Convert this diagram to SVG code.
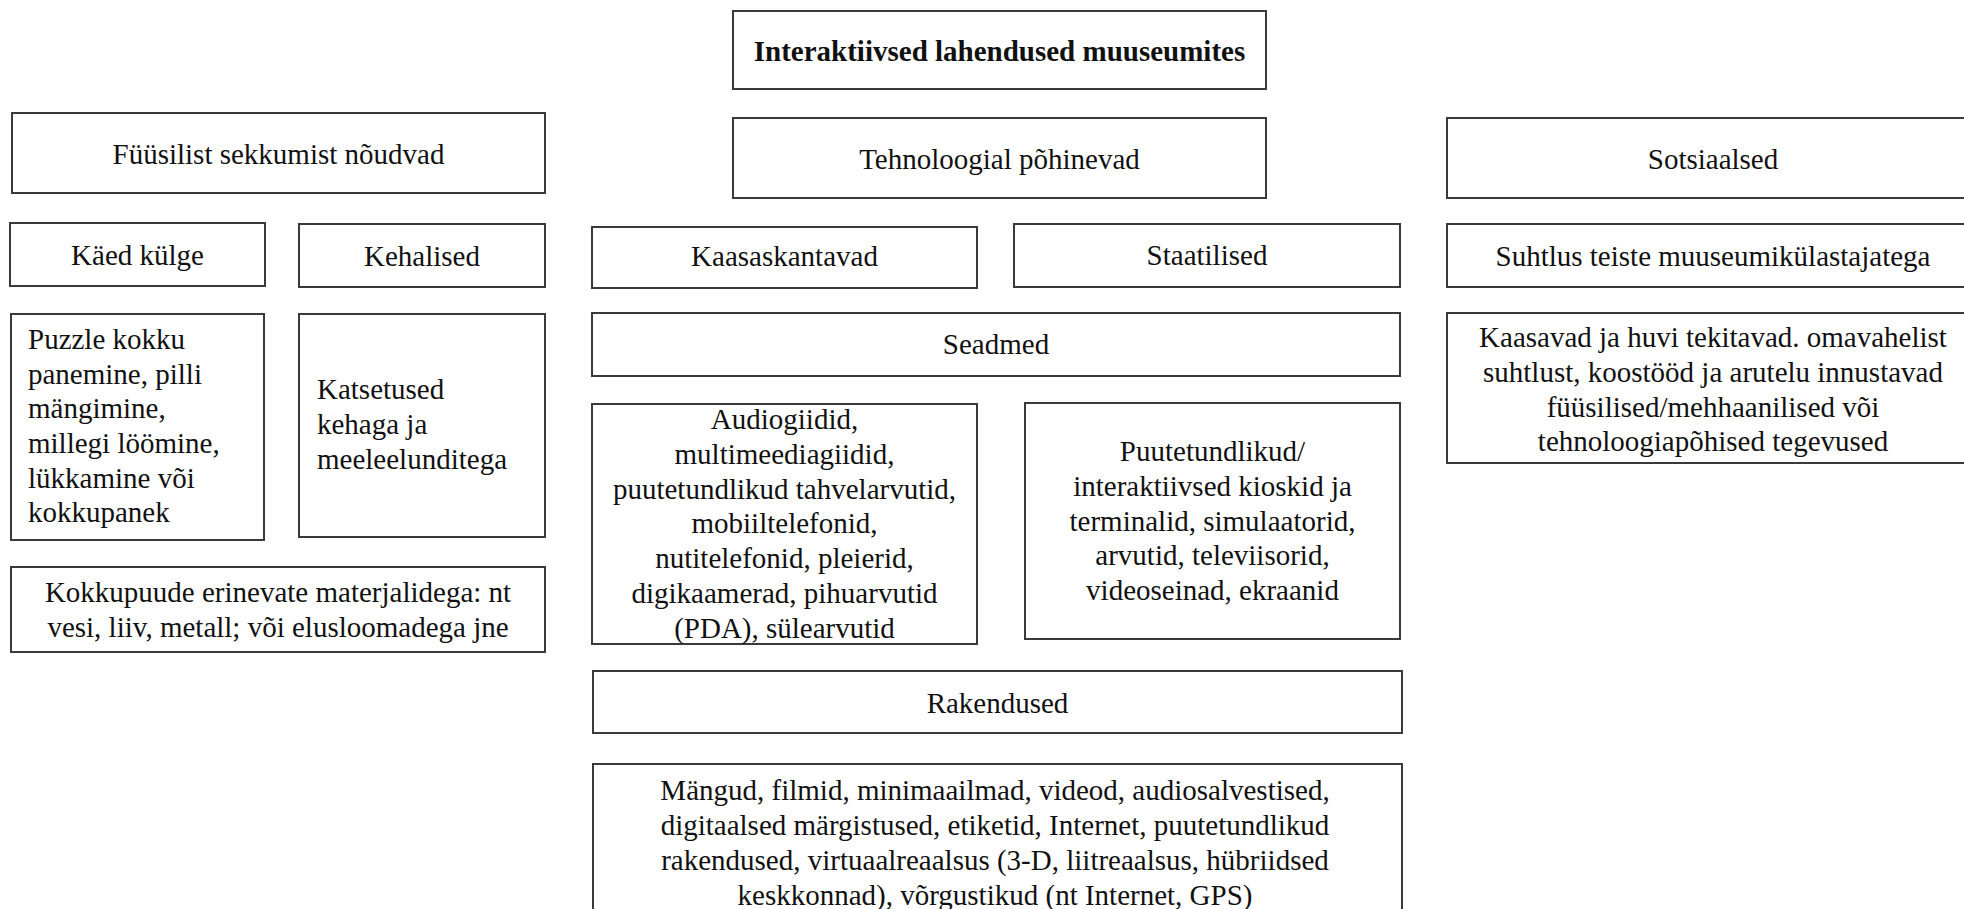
<svg xmlns="http://www.w3.org/2000/svg" width="1964" height="909" viewBox="0 0 1964 909">
  <style>
    .box { fill: #ffffff; stroke: #3a3a3a; stroke-width: 2; }
    .t { font-family: "Liberation Serif", "Times New Roman", serif; font-size: 29px; fill: #111111; }
    .c { text-anchor: middle; }
    .b { font-weight: bold; }
  </style>
  <rect x="0" y="0" width="1964" height="909" fill="#ffffff"/>

  <!-- Root -->
  <g id="root">
    <rect class="box" x="733" y="11" width="533" height="78"/>
    <text class="t c b" x="999.5" y="61">Interaktiivsed lahendused muuseumites</text>
  </g>

  <!-- Physical branch -->
  <g id="fyysilist">
    <rect class="box" x="12" y="113" width="533" height="80"/>
    <text class="t c" x="278.5" y="164">Füüsilist sekkumist nõudvad</text>
  </g>
  <g id="kaed-kulge">
    <rect class="box" x="10" y="223" width="255" height="63"/>
    <text class="t c" x="137.5" y="265">Käed külge</text>
  </g>
  <g id="kehalised">
    <rect class="box" x="299" y="224" width="246" height="63"/>
    <text class="t c" x="422" y="266">Kehalised</text>
  </g>
  <g id="puzzle">
    <rect class="box" x="11" y="314" width="253" height="226"/>
    <text class="t" x="28" y="349">Puzzle kokku</text>
    <text class="t" x="28" y="384">panemine, pilli</text>
    <text class="t" x="28" y="418">mängimine,</text>
    <text class="t" x="28" y="453">millegi löömine,</text>
    <text class="t" x="28" y="488">lükkamine või</text>
    <text class="t" x="28" y="522">kokkupanek</text>
  </g>
  <g id="katsetused">
    <rect class="box" x="299" y="314" width="246" height="223"/>
    <text class="t" x="317" y="399">Katsetused</text>
    <text class="t" x="317" y="434">kehaga ja</text>
    <text class="t" x="317" y="469">meeleelunditega</text>
  </g>
  <g id="kokkupuude">
    <rect class="box" x="11" y="567" width="534" height="85"/>
    <text class="t c" x="278" y="602">Kokkupuude erinevate materjalidega: nt</text>
    <text class="t c" x="278" y="637">vesi, liiv, metall; või elusloomadega jne</text>
  </g>

  <!-- Technology branch -->
  <g id="tehnoloogial">
    <rect class="box" x="733" y="118" width="533" height="80"/>
    <text class="t c" x="999.5" y="169">Tehnoloogial põhinevad</text>
  </g>
  <g id="kaasaskantavad">
    <rect class="box" x="592" y="227" width="385" height="61"/>
    <text class="t c" x="784.5" y="266">Kaasaskantavad</text>
  </g>
  <g id="staatilised">
    <rect class="box" x="1014" y="224" width="386" height="63"/>
    <text class="t c" x="1207" y="265">Staatilised</text>
  </g>
  <g id="seadmed">
    <rect class="box" x="592" y="313" width="808" height="63"/>
    <text class="t c" x="996" y="354">Seadmed</text>
  </g>
  <g id="audiogiidid">
    <rect class="box" x="592" y="404" width="385" height="240"/>
    <text class="t c" x="784.5" y="429">Audiogiidid,</text>
    <text class="t c" x="784.5" y="464">multimeediagiidid,</text>
    <text class="t c" x="784.5" y="499">puutetundlikud tahvelarvutid,</text>
    <text class="t c" x="784.5" y="533">mobiiltelefonid,</text>
    <text class="t c" x="784.5" y="568">nutitelefonid, pleierid,</text>
    <text class="t c" x="784.5" y="603">digikaamerad, pihuarvutid</text>
    <text class="t c" x="784.5" y="638">(PDA), sülearvutid</text>
  </g>
  <g id="puutetundlikud">
    <rect class="box" x="1025" y="403" width="375" height="236"/>
    <text class="t c" x="1212.5" y="461">Puutetundlikud/</text>
    <text class="t c" x="1212.5" y="496">interaktiivsed kioskid ja</text>
    <text class="t c" x="1212.5" y="531">terminalid, simulaatorid,</text>
    <text class="t c" x="1212.5" y="565">arvutid, televiisorid,</text>
    <text class="t c" x="1212.5" y="600">videoseinad, ekraanid</text>
  </g>
  <g id="rakendused">
    <rect class="box" x="593" y="671" width="809" height="62"/>
    <text class="t c" x="997.5" y="713">Rakendused</text>
  </g>
  <g id="rakendused-list">
    <rect class="box" x="593" y="764" width="809" height="170"/>
    <text class="t c" x="995" y="800">Mängud, filmid, minimaailmad, videod, audiosalvestised,</text>
    <text class="t c" x="995" y="835">digitaalsed märgistused, etiketid, Internet, puutetundlikud</text>
    <text class="t c" x="995" y="870">rakendused, virtuaalreaalsus (3-D, liitreaalsus, hübriidsed</text>
    <text class="t c" x="995" y="905">keskkonnad), võrgustikud (nt Internet, GPS)</text>
  </g>

  <!-- Social branch -->
  <g id="sotsiaalsed">
    <rect class="box" x="1447" y="118" width="532" height="80"/>
    <text class="t c" x="1713" y="169">Sotsiaalsed</text>
  </g>
  <g id="suhtlus">
    <rect class="box" x="1447" y="224" width="532" height="63"/>
    <text class="t c" x="1713" y="266">Suhtlus teiste muuseumikülastajatega</text>
  </g>
  <g id="kaasavad">
    <rect class="box" x="1447" y="313" width="532" height="150"/>
    <text class="t c" x="1713" y="347">Kaasavad ja huvi tekitavad. omavahelist</text>
    <text class="t c" x="1713" y="382">suhtlust, koostööd ja arutelu innustavad</text>
    <text class="t c" x="1713" y="417">füüsilised/mehhaanilised või</text>
    <text class="t c" x="1713" y="451">tehnoloogiapõhised tegevused</text>
  </g>

  <!-- No linking lines between the boxes -->
  <g id="connectors"/>
</svg>
